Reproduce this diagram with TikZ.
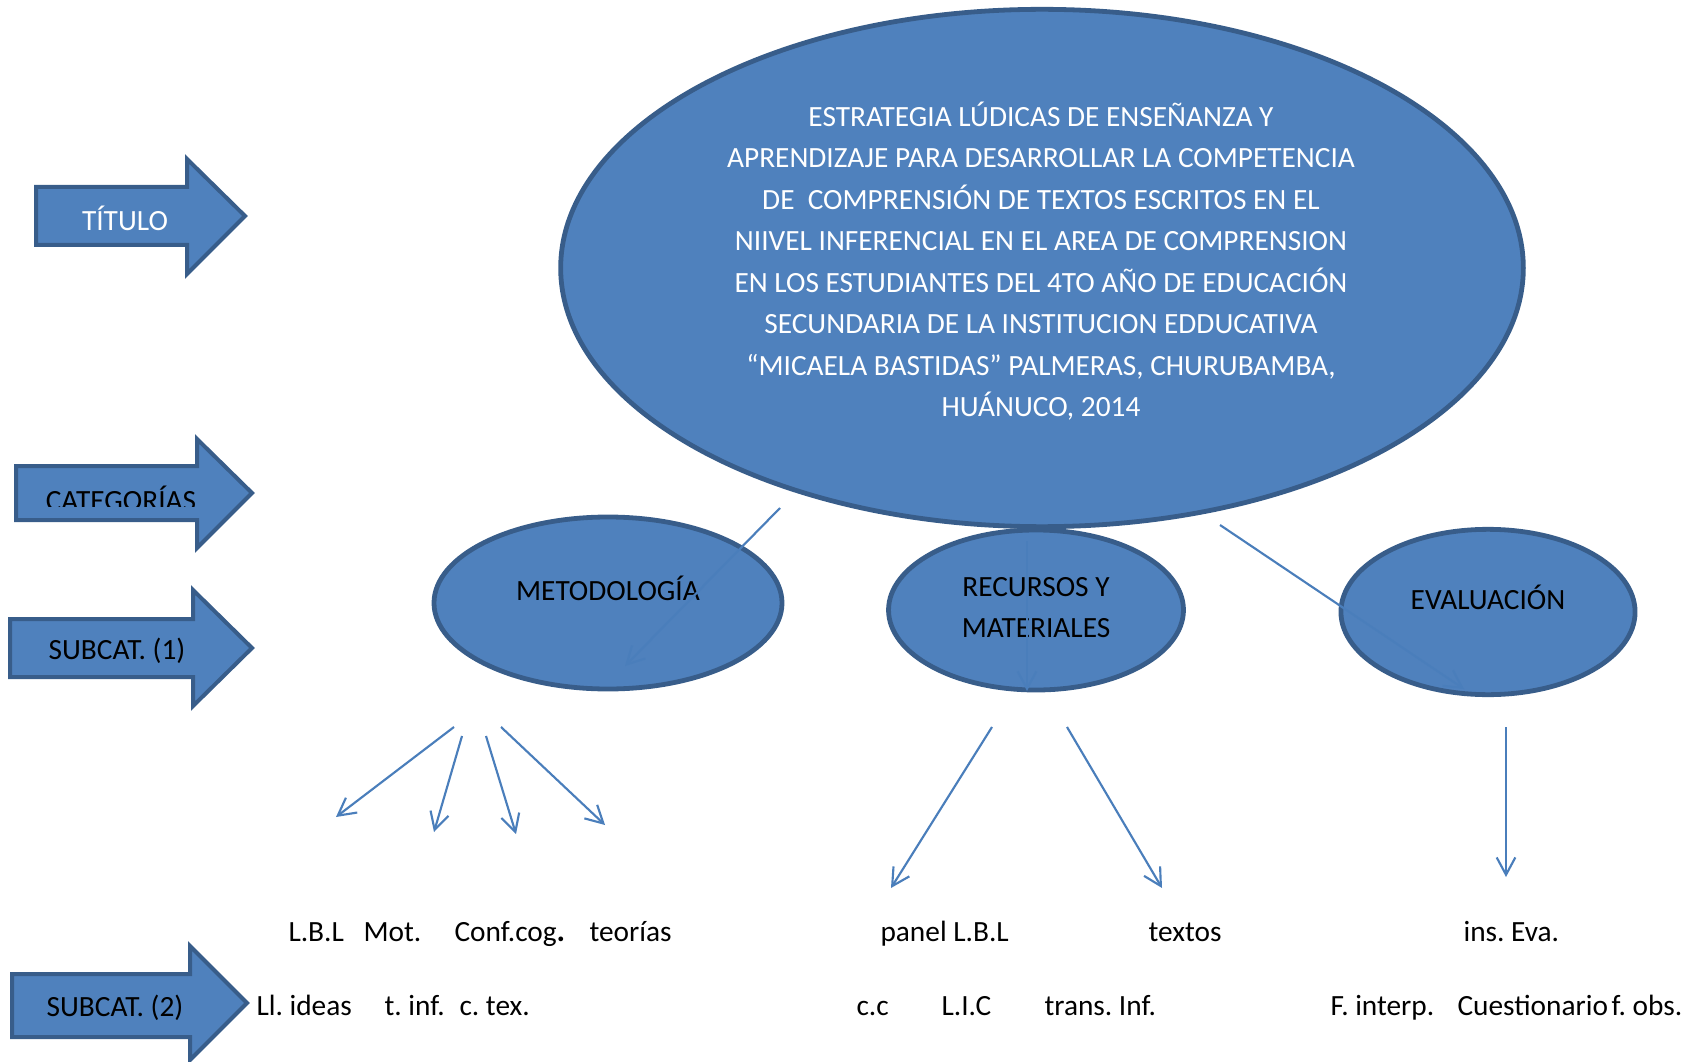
\documentclass[tikz,border=0pt]{standalone}
\usepackage{fontspec}
\setmainfont{Carlito}
\usetikzlibrary{shapes.geometric,arrows.meta}
\definecolor{fillblue}{HTML}{4F81BD}
\definecolor{edgeblue}{HTML}{385D8A}
\definecolor{lineblue}{HTML}{4A7EBB}
\frenchspacing

\begin{document}
\begin{tikzpicture}[x=0.375pt,y=-0.375pt,
  font=\fontsize{11pt}{15.56pt}\selectfont,
  bubble/.style={draw=edgeblue,fill=fillblue,line width=1.8pt,ellipse,inner sep=0},
  banner/.style={draw=edgeblue,fill=fillblue,line width=1.5pt,line join=miter},
  link/.style={draw=lineblue,line width=0.8pt,-{Straight Barb[length=6.5pt,width=7pt]}},
  word/.style={anchor=base west,inner sep=0},
  tag/.style={anchor=base,inner sep=0}]

\useasboundingbox (0,0) rectangle (1698,1062);

% arrows on the left
\draw[banner] (36,187) -- (187,187) -- (187,159) -- (245,216) -- (187,274) -- (187,245) -- (36,245) -- cycle;
\draw[banner] (16,466) -- (197,466) -- (197,439) -- (252,493) -- (197,548) -- (197,520) -- (16,520) -- cycle;
\draw[banner] (10,619) -- (193,619) -- (193,590) -- (252,648) -- (193,706) -- (193,677) -- (10,677) -- cycle;
\draw[banner] (12,974) -- (190,974) -- (190,946) -- (247,1003) -- (190,1060) -- (190,1037) -- (12,1037) -- cycle;

\node[tag,text=white] (titulo) at (125,231) {TÍTULO};
\begin{scope}
\clip (16,466) rectangle (197,506);
\node[tag] (categorias) at (121,510) {CATEGORÍAS};
\end{scope}
\node[tag] (subcat1) at (117,659) {SUBCAT. (1)};
\node[tag] (subcat2) at (115,1016) {SUBCAT. (2)};

% ellipses
\node[bubble,minimum width=361pt,minimum height=194pt] (tema) at (1042,268) {};
\node[text=white,align=center,inner sep=0] (temaT) at (1041,261) {ESTRATEGIA LÚDICAS DE ENSEÑANZA Y\\
APRENDIZAJE PARA DESARROLLAR LA COMPETENCIA\\
DE\ \ COMPRENSIÓN DE TEXTOS ESCRITOS EN EL\\
NIIVEL INFERENCIAL EN EL AREA DE COMPRENSION\\
EN LOS ESTUDIANTES DEL 4TO AÑO DE EDUCACIÓN\\
SECUNDARIA DE LA INSTITUCION EDDUCATIVA\\
“MICAELA BASTIDAS” PALMERAS, CHURUBAMBA,\\
HUÁNUCO, 2014};

\node[bubble,minimum width=130.5pt,minimum height=64.5pt] (metodo) at (608,603) {};
\node[bubble,minimum width=110.6pt,minimum height=60pt] (recursos) at (1036,610) {};
\node[bubble,minimum width=110.3pt,minimum height=62pt] (evalua) at (1488,612) {};

\node[tag] (metodoT) at (608,600) {METODOLOGÍA};
\node[tag] (recursosT) at (1036,596) {RECURSOS Y};
\node[tag] (recursosT2) at (1036,637) {MATERIALES};
\node[tag] (evaluaT) at (1488,609) {EVALUACIÓN};

% connector ends
\coordinate (t1) at (780,508);
\coordinate (t1e) at (625,666);
\coordinate (t2) at (1027,541);
\coordinate (t2e) at (1027,691);
\coordinate (t3) at (1220,525);
\coordinate (t3e) at (1464,689);

\coordinate (m1) at (454,727);
\coordinate (m1e) at (336,817);
\coordinate (m2) at (462,736);
\coordinate (m2e) at (434,832);
\coordinate (m3) at (486,736);
\coordinate (m3e) at (516,834);
\coordinate (m4) at (501,727);
\coordinate (m4e) at (605,825);
\coordinate (r1) at (992,727);
\coordinate (r1e) at (891,888);
\coordinate (r2) at (1067,727);
\coordinate (r2e) at (1162,888);
\coordinate (e1) at (1506,727);
\coordinate (e1e) at (1506,877);

\draw[link] (t1) -- (t1e);
\draw[link] (t2) -- (t2e);
\draw[link] (t3) -- (t3e);
\draw[link] (m1) -- (m1e);
\draw[link] (m2) -- (m2e);
\draw[link] (m3) -- (m3e);
\draw[link] (m4) -- (m4e);
\draw[link] (r1) -- (r1e);
\draw[link] (r2) -- (r2e);
\draw[link] (e1) -- (e1e);

% subcategory words
\node[word] (lbl) at (288,941) {L.B.L};
\node[word] (mot) at (363,941) {Mot.};
\node[word] (conf) at (454,941) {Conf.cog\textbf{\large .}};
\node[word] (teo) at (589,941) {teorías};
\node[word] (panel) at (880,941) {panel L.B.L};
\node[word] (textos) at (1148,941) {textos};
\node[word] (ins) at (1463,941) {ins. Eva.};

\node[word] (ideas) at (256,1015) {Ll. ideas};
\node[word] (tinf) at (384,1015) {t. inf.};
\node[word] (ctex) at (459,1015) {c. tex.};
\node[word] (cc) at (856,1015) {c.c};
\node[word] (lic) at (941,1015) {L.I.C};
\node[word] (trans) at (1044,1015) {trans. Inf.};
\node[word] (interp) at (1330,1015) {F. interp.};
\node[word] (cuest) at (1457,1015) {Cuestionario};
\node[word] (obs) at (1611,1015) {f. obs.};

\end{tikzpicture}
\end{document}
